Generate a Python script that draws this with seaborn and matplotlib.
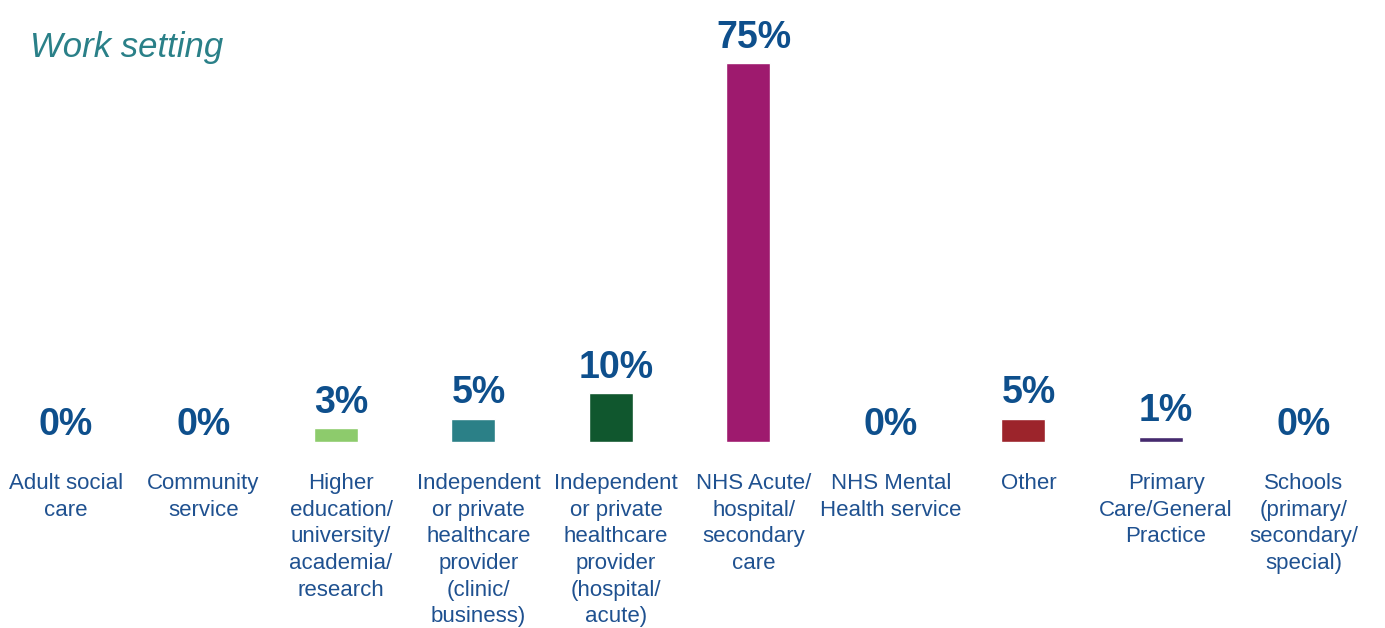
import matplotlib
matplotlib.use('Agg')
import matplotlib.pyplot as plt
import matplotlib.transforms as mtransforms
import seaborn as sns
import pandas as pd

# ── data ────────────────────────────────────────────────────────────
categories = [
    "Adult social\ncare",
    "Community\nservice",
    "Higher\neducation/\nuniversity/\nacademia/\nresearch",
    "Independent\nor private\nhealthcare\nprovider\n(clinic/\nbusiness)",
    "Independent\nor private\nhealthcare\nprovider\n(hospital/\nacute)",
    "NHS Acute/\nhospital/\nsecondary\ncare",
    "NHS Mental\nHealth service",
    "Other",
    "Primary\nCare/General\nPractice",
    "Schools\n(primary/\nsecondary/\nspecial)",
]
values = [0, 0, 2.7, 4.6, 9.6, 75, 0, 4.6, 1.0, 0]
bar_colors = ["#888888", "#888888", "#8dcb6c", "#2b8087", "#10572e",
              "#9e1a6e", "#888888", "#9c242b", "#452a6e", "#888888"]

df = pd.DataFrame({"setting": categories, "pct": values})

sns.set_theme(style="white")
plt.rcParams['font.family'] = ['Liberation Sans', 'DejaVu Sans']

label_blue = "#0e4f8c"
text_blue = "#1f5190"

fig = plt.figure(figsize=(13.85, 6.28), dpi=100)
ax = fig.add_axes([0, 0.2962, 1, 0.7038])

sns.barplot(data=df, x="setting", y="pct", hue="setting",
            palette=bar_colors, width=0.32, legend=False, ax=ax,
            saturation=1)

# bars sit slightly left of their labels, as in the original slide
ax.set_xlim(-0.44, 9.6327)
ax.set_ylim(0, 87.5)
ax.set_xlabel("")
ax.set_ylabel("")
ax.set_yticks([])
for s in ax.spines.values():
    s.set_visible(False)

ax.tick_params(axis='x', length=0, pad=22.5)
ax.set_xticks(range(len(categories)))
ax.set_xticklabels(categories, fontsize=16, color=text_blue, linespacing=1.35)
shift = mtransforms.ScaledTranslation(5.5 / 100, 0, fig.dpi_scale_trans)
for lab in ax.get_xticklabels():
    lab.set_transform(lab.get_transform() + shift)

for i, v in enumerate(values):
    off = -0.5 if v == 0 else 5.5
    ax.annotate(f"{round(v)}%", (i, v), xytext=(3.96, off),
                textcoords="offset points", ha="center", va="bottom",
                fontsize=27, fontweight="bold", color=label_blue)

fig.text(30 / 1385, 1 - 57 / 628, "Work setting", fontsize=25,
         style="italic", color="#2a8088", ha="left", va="baseline")

fig.savefig("out.png", dpi=100)
